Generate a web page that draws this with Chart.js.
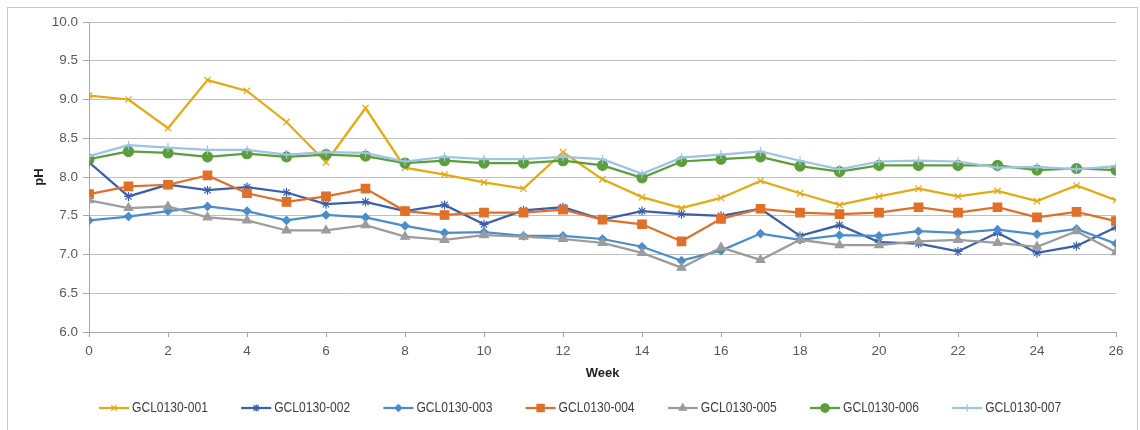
<!DOCTYPE html>
<html>
<head>
<meta charset="utf-8">
<title>pH by Week</title>
<script src="https://cdn.jsdelivr.net/npm/chart.js@4.4.1/dist/chart.umd.min.js"></script>
<style>
  html, body { margin: 0; padding: 0; background: #ffffff; }
  #wrap { width: 1140px; height: 430px; position: relative; }
</style>
</head>
<body>
<div id="wrap"><canvas id="chart" width="1140" height="430"></canvas></div>
<script>
// Weeks on the x axis
const weeks = [0,1,2,3,4,5,6,7,8,9,10,11,12,13,14,15,16,17,18,19,20,21,22,23,24,25,26];

// pH readings per sample, one value per week
const gcl001 = [9.05,9.00,8.63,9.25,9.11,8.71,8.19,8.89,8.12,8.03,7.93,7.85,8.32,7.97,7.74,7.60,7.73,7.95,7.79,7.64,7.75,7.85,7.75,7.82,7.69,7.89,7.70];
const gcl002 = [8.19,7.75,7.90,7.83,7.87,7.80,7.65,7.68,7.56,7.64,7.39,7.57,7.61,7.45,7.56,7.52,7.50,7.59,7.24,7.38,7.16,7.14,7.04,7.28,7.02,7.11,7.35];
const gcl003 = [7.44,7.49,7.56,7.62,7.56,7.44,7.51,7.48,7.37,7.28,7.29,7.24,7.24,7.20,7.10,6.92,7.05,7.27,7.19,7.25,7.24,7.30,7.28,7.32,7.26,7.33,7.14];
const gcl004 = [7.78,7.88,7.90,8.02,7.79,7.68,7.75,7.85,7.56,7.51,7.54,7.54,7.58,7.45,7.39,7.17,7.46,7.59,7.54,7.52,7.54,7.61,7.54,7.61,7.48,7.55,7.43];
const gcl005 = [7.70,7.60,7.62,7.48,7.44,7.31,7.31,7.38,7.23,7.19,7.25,7.23,7.20,7.15,7.02,6.83,7.09,6.93,7.19,7.12,7.12,7.17,7.19,7.15,7.10,7.30,7.03];
const gcl006 = [8.23,8.33,8.31,8.26,8.30,8.26,8.29,8.27,8.18,8.21,8.18,8.18,8.21,8.15,7.99,8.20,8.23,8.26,8.14,8.07,8.15,8.15,8.15,8.15,8.09,8.11,8.09];
const gcl007 = [8.27,8.41,8.38,8.35,8.35,8.29,8.32,8.31,8.20,8.26,8.23,8.23,8.26,8.23,8.04,8.25,8.29,8.33,8.21,8.10,8.20,8.21,8.20,8.12,8.13,8.10,8.14];

const seriesNames = ['GCL0130-001','GCL0130-002','GCL0130-003','GCL0130-004','GCL0130-005','GCL0130-006','GCL0130-007'];
const seriesValues = [gcl001, gcl002, gcl003, gcl004, gcl005, gcl006, gcl007];

// Axis ranges and tick spacing
const yTicks = { min: 6.0, max: 10.0, step: 0.5 };
const xTicks = { min: 0, max: 26, step: 2 };

// Line colours and marker shapes for each sample
const styles = [
  { color: '#E5A912', point: 'crossRot', radius: 4.5 },
  { color: '#3A5FAE', point: 'star',     radius: 4.5 },
  { color: '#4A8DCC', point: 'rectRot',  radius: 4 },
  { color: '#E07029', point: 'rect',     radius: 6 },
  { color: '#9C9C9C', point: 'triangle', radius: 5 },
  { color: '#5C9E3B', point: 'circle',   radius: 5 },
  { color: '#9DC3E6', point: 'cross',    radius: 4.5 }
];

const datasets = seriesNames.map((name, i) => ({
  label: name,
  data: weeks.map((w, k) => ({ x: w, y: seriesValues[i][k] })),
  borderColor: styles[i].color,
  backgroundColor: styles[i].color,
  pointBackgroundColor: styles[i].color,
  pointBorderColor: styles[i].color,
  pointStyle: styles[i].point,
  pointRadius: styles[i].radius,
  pointBorderWidth: 1.2,
  borderWidth: 2.25,
  tension: 0,
  order: seriesNames.length - 1 - i
}));

const tickColor = '#595959';
const gridColor = '#C0C0C0';

// Outer frame around the whole chart
const framePlugin = {
  id: 'frame',
  beforeDraw(chart) {
    const ctx = chart.ctx;
    ctx.save();
    ctx.strokeStyle = '#C9C9C9';
    ctx.lineWidth = 1;
    ctx.strokeRect(7.5, 7.5, 1130, 440);
    ctx.restore();
  }
};

// Legend row beneath the axis: a short line with the marker, then the name
const lineLegendPlugin = {
  id: 'lineLegend',
  afterDraw(chart) {
    const ctx = chart.ctx;
    const y = 408;
    const startX = 99;
    const gap = 142.2;
    ctx.save();
    chart.data.datasets.forEach((ds, i) => {
      const x0 = startX + i * gap;
      ctx.strokeStyle = ds.borderColor;
      ctx.fillStyle = ds.borderColor;
      ctx.lineWidth = 2.25;
      ctx.beginPath();
      ctx.moveTo(x0, y);
      ctx.lineTo(x0 + 30, y);
      ctx.stroke();
      ctx.lineWidth = 1.2;
      Chart.helpers.drawPoint(ctx, {
        pointStyle: ds.pointStyle,
        radius: ds.pointRadius * 0.85,
        rotation: 0,
        borderWidth: 1.2
      }, x0 + 15, y);
      ctx.fillStyle = '#404040';
      ctx.font = '14px "Liberation Sans", sans-serif';
      ctx.textBaseline = 'middle';
      ctx.textAlign = 'left';
      ctx.fillText(ds.label, x0 + 33, y + 0.5, 76);
    });
    ctx.restore();
  }
};

new Chart(document.getElementById('chart'), {
  type: 'line',
  data: { datasets },
  plugins: [framePlugin, lineLegendPlugin],
  options: {
    responsive: false,
    animation: false,
    layout: { padding: { left: 28, right: 24, top: 22, bottom: 45 } },
    plugins: {
      legend: { display: false },
      tooltip: { enabled: false },
      title: { display: false }
    },
    scales: {
      x: {
        type: 'linear',
        min: xTicks.min,
        max: xTicks.max,
        afterFit(scale) { scale.height = 53; },
        ticks: {
          stepSize: xTicks.step,
          color: tickColor,
          padding: 6,
          font: { family: '"Liberation Sans", sans-serif', size: 13.5 },
          maxRotation: 0
        },
        grid: {
          drawOnChartArea: false,
          drawTicks: true,
          tickLength: 5,
          color: '#A6A6A6'
        },
        border: { color: '#A6A6A6', width: 1 },
        title: {
          display: true,
          text: 'Week',
          color: '#1F1F1F',
          font: { family: '"Liberation Sans", sans-serif', size: 13, weight: 'bold' },
          padding: { top: 4, bottom: 4 }
        }
      },
      y: {
        min: yTicks.min,
        max: yTicks.max,
        afterFit(scale) { scale.width = 61; },
        ticks: {
          stepSize: yTicks.step,
          color: tickColor,
          padding: 5,
          font: { family: '"Liberation Sans", sans-serif', size: 13.5 },
          callback: (v) => Number(v).toFixed(1)
        },
        grid: {
          color: gridColor,
          lineWidth: 1,
          drawTicks: true,
          tickLength: 6,
          tickColor: '#A6A6A6'
        },
        border: { color: '#A6A6A6', width: 1 },
        title: {
          display: true,
          text: 'pH',
          color: '#1F1F1F',
          font: { family: '"Liberation Sans", sans-serif', size: 13, weight: 'bold' },
          padding: { top: 4, bottom: 4 }
        }
      }
    }
  }
});
</script>
</body>
</html>
